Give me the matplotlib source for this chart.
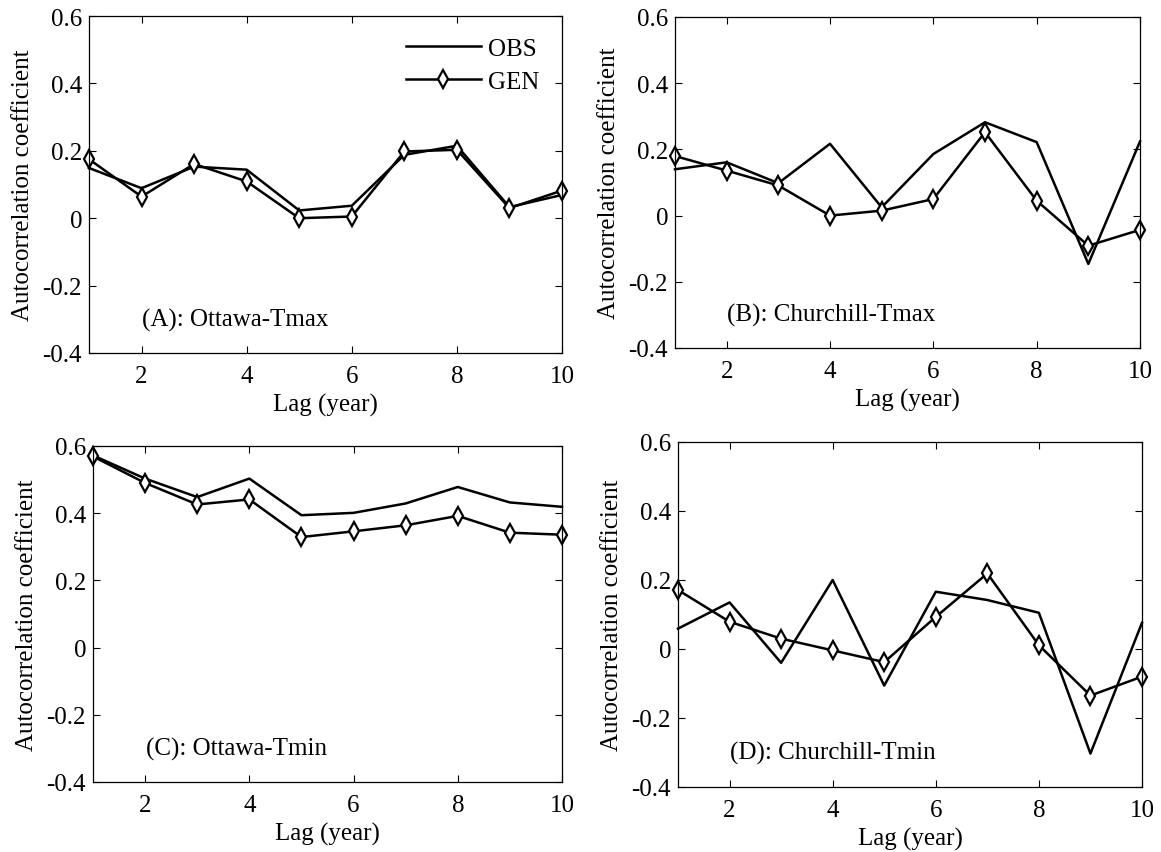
import matplotlib
matplotlib.use("Agg")
import matplotlib.pyplot as plt

plt.rcParams['font.family'] = ['Liberation Serif', 'DejaVu Serif']

lags = [1, 2, 3, 4, 5, 6, 7, 8, 9, 10]

obs_a = [0.149, 0.089, 0.153, 0.144, 0.023, 0.037, 0.188, 0.215, 0.033, 0.069]
gen_a = [0.175, 0.064, 0.161, 0.109, 0.000, 0.005, 0.198, 0.203, 0.030, 0.082]

obs_b = [0.140, 0.161, 0.098, 0.217, 0.025, 0.186, 0.282, 0.222, -0.146, 0.224]
gen_b = [0.180, 0.136, 0.091, 0.000, 0.015, 0.050, 0.252, 0.045, -0.091, -0.043]

obs_c = [0.572, 0.503, 0.448, 0.503, 0.394, 0.401, 0.429, 0.478, 0.432, 0.419]
gen_c = [0.569, 0.490, 0.426, 0.441, 0.329, 0.346, 0.364, 0.392, 0.342, 0.336]

obs_d = [0.059, 0.135, -0.040, 0.200, -0.106, 0.166, 0.142, 0.105, -0.303, 0.076]
gen_d = [0.171, 0.079, 0.030, -0.004, -0.038, 0.093, 0.219, 0.011, -0.135, -0.080]

panel_titles = ["(A): Ottawa-Tmax", "(B): Churchill-Tmax",
                "(C): Ottawa-Tmin", "(D): Churchill-Tmin"]
yticks = [-0.4, -0.2, 0, 0.2, 0.4, 0.6]
ytick_labels = ["-0.4", "-0.2", "0", "0.2", "0.4", "0.6"]
xticks = [2, 4, 6, 8, 10]

W, H = 1161, 853
fig = plt.figure(figsize=(W / 100, H / 100), dpi=100)

# (left, right, top, bottom) pixel boxes
boxes = [(89, 562, 17, 354), (675, 1140, 18, 349),
         (93, 562, 447, 783), (678, 1142, 443, 788)]
datasets = [(obs_a, gen_a), (obs_b, gen_b), (obs_c, gen_c), (obs_d, gen_d)]
fs = 18

for i, ((l, r, t, b), (obs, gen), title) in enumerate(zip(boxes, datasets, panel_titles)):
    ax = fig.add_axes([l / W, 1 - b / H, (r - l) / W, (b - t) / H])
    ax.plot(lags, obs, color='black', lw=1.8, label='OBS', clip_on=False)
    ax.plot(lags, gen, color='black', lw=1.8, marker='d', markersize=9,
            markerfacecolor='white', markeredgecolor='black', markeredgewidth=1.6,
            label='GEN', clip_on=False)
    ax.set_xlim(1, 10)
    ax.set_ylim(-0.4, 0.6)
    ax.set_xticks(xticks)
    ax.set_xticklabels([str(v) for v in xticks])
    ax.set_yticks(yticks)
    ax.set_yticklabels(ytick_labels)
    ax.tick_params(direction='in', top=True, right=True, length=5, width=0.8,
                   labelsize=fs)
    ax.tick_params(axis='x', pad=9)
    ax.tick_params(axis='y', pad=5)
    for s in ax.spines.values():
        s.set_linewidth(0.9)
    ax.set_xlabel('Lag (year)', fontsize=fs, labelpad=4)
    ax.set_ylabel('Autocorrelation coefficient', fontsize=fs, labelpad=6)
    ax.text(0.112, 0.10, title, transform=ax.transAxes, fontsize=fs,
            ha='left', va='center')
    if i == 0:
        ax.legend(loc='upper right', frameon=False, fontsize=fs,
                  handlelength=3.0, handletextpad=0.3, borderaxespad=0.4,
                  labelspacing=0.4, bbox_to_anchor=(0.995, 0.995))

fig.savefig('out.png', dpi=100)
